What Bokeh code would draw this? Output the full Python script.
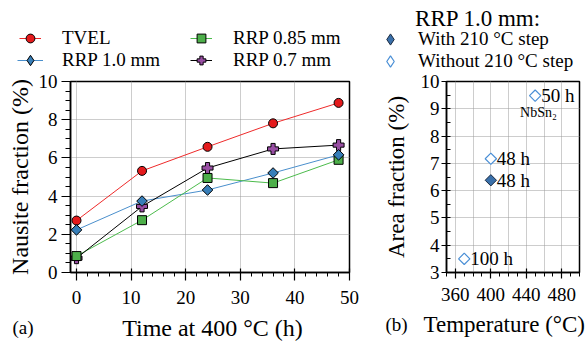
import numpy as np
from bokeh.plotting import figure
from bokeh.layouts import row, column
from bokeh.models import (Range1d, SingleIntervalTicker, FixedTicker, Legend, LegendItem,
                          Label, ColumnDataSource)
from bokeh.core.properties import value
from bokeh.embed import file_html
from bokeh.resources import INLINE

FONT = "Liberation Serif"

# ---------------- data: panel (a) ----------------
time_h = [0, 12, 24, 36, 48]
tvel = [2.72, 5.32, 6.58, 7.81, 8.88]
rrp_10 = [2.23, 3.74, 4.32, 5.21, 6.16]
rrp_085 = [0.86, 2.74, 4.95, 4.68, 5.90]
rrp_07 = [0.75, 3.46, 5.47, 6.47, 6.67]
series_names = ["TVEL", "RRP 1.0 mm", "RRP 0.85 mm", "RRP 0.7 mm"]

# ---------------- data: panel (b) ----------------
with_temp = [400]
with_area = [6.38]
with_label = ["48 h"]
without_temp = [450, 400, 370]
without_area = [9.48, 7.17, 3.50]
without_label = ["50 h", "48 h", "100 h"]
nbsn2_temp = [433]
nbsn2_area = [8.86]
nbsn2_text = ["NbSn₂"]
group_names = ["With 210 °C step", "Without 210 °C step"]

RED, BLUE, GREEN, PURPLE = "#e41a1c", "#377eb8", "#4daf4a", "#984ea3"
LINE_COLORS = ["#ee2a2a", "#4a8fcc", "#4cbb4c", "black"]
WITH_FILL, WITH_LINE = "#3a70aa", "#1a2a40"
WITHOUT_LINE = "#4a8fd6"

W_TOTAL = 588
TOP_H, MAIN_H, BOT_H = 71, 240, 32


def blank_strip(h):
    f = figure(width=W_TOTAL, height=h, x_range=Range1d(0, 1), y_range=Range1d(0, 1),
               x_axis_type=None, y_axis_type=None, output_backend="svg",
               toolbar_location=None, title_location=None, min_border=0)
    f.outline_line_color = None
    return f


def style_axes(p, lab_size):
    p.outline_line_color = "black"
    p.outline_line_width = 1.5
    p.axis.major_label_text_font = FONT
    p.axis.major_label_text_font_size = "19px"
    p.axis.major_label_text_color = "black"
    p.axis.axis_line_width = 1.5
    p.axis.major_tick_line_width = 1.2
    p.axis.minor_tick_line_width = 1.0
    p.axis.axis_label_text_font = FONT
    p.axis.axis_label_text_font_size = lab_size
    p.axis.axis_label_text_font_style = "normal"
    p.axis.axis_label_text_color = "black"
    p.grid.grid_line_color = "#9a9a9a"
    p.grid.grid_line_dash = "1 1"
    p.grid.grid_line_width = 1


def key_source():
    # a single undrawable point, so that the legend key has its styles
    return ColumnDataSource(dict(x=[np.nan], y=[np.nan]))


def add_key(fig, label, renderers, x_left, y_center, gw, gh, standoff):
    lg = Legend(items=[LegendItem(label=label, renderers=renderers)],
                location=(x_left, TOP_H - (y_center + gh / 2)))
    lg.label_text_font = FONT
    lg.label_text_font_size = "19px"
    lg.label_text_color = "black"
    lg.background_fill_alpha = 0
    lg.border_line_alpha = 0
    lg.padding = 0
    lg.margin = 0
    lg.spacing = 0
    lg.glyph_width = gw
    lg.glyph_height = gh
    lg.label_height = gh
    lg.label_standoff = standoff
    fig.add_layout(lg, "center")


# ================= top strip: legends =================
pt = blank_strip(TOP_H)
leg_line = [pt.line(x="x", y="y", source=key_source(), line_color=c, line_width=1)
            for c in LINE_COLORS]
leg_mark = [
    pt.scatter(x="x", y="y", source=key_source(), marker="circle",
               fill_color=RED, line_color="black"),
    pt.scatter(x="x", y="y", source=key_source(), marker="diamond",
               fill_color=BLUE, line_color="black"),
    pt.scatter(x="x", y="y", source=key_source(), marker="square",
               fill_color=GREEN, line_color="black"),
    pt.scatter(x="x", y="y", source=key_source(), marker="plus",
               fill_color=PURPLE, line_color="black"),
]
add_key(pt, series_names[0], [leg_line[0], leg_mark[0]], 19, 38, 22, 22, 21)
add_key(pt, series_names[1], [leg_line[1], leg_mark[1]], 17, 60, 26, 26, 19)
add_key(pt, series_names[2], [leg_line[2], leg_mark[2]], 190, 38, 22, 22, 21)
add_key(pt, series_names[3], [leg_line[3], leg_mark[3]], 190, 60, 22, 22, 21)

r_leg_with = pt.scatter(x="x", y="y", source=key_source(), marker="diamond",
                        fill_color=WITH_FILL, line_color=WITH_LINE)
r_leg_without = pt.scatter(x="x", y="y", source=key_source(), marker="diamond",
                           fill_color="white", line_color=WITHOUT_LINE, line_width=1.2)
add_key(pt, group_names[0], [r_leg_with], 376, 39, 28, 28, 14)
add_key(pt, group_names[1], [r_leg_without], 376, 61, 28, 28, 14)
pt.add_layout(Label(x=477.5, y=53, x_units="screen", y_units="screen", text="RRP 1.0 mm:",
                    text_font=FONT, text_font_size="23px", text_align="center",
                    text_baseline="alphabetic", text_color="black"))

# ================= panel (a) =================
p1 = figure(width=380, height=MAIN_H, x_range=Range1d(-1.1, 50), y_range=Range1d(0, 10),
            output_backend="svg", toolbar_location=None, title_location=None,
            min_border_left=70, min_border_right=31, min_border_top=10, min_border_bottom=39)
p1.xaxis.ticker = SingleIntervalTicker(interval=10, num_minor_ticks=5)
p1.yaxis.ticker = SingleIntervalTicker(interval=2, num_minor_ticks=4)
p1.xgrid.ticker = SingleIntervalTicker(interval=10)
p1.ygrid.ticker = SingleIntervalTicker(interval=2)
p1.yaxis.axis_label = "Nausite fraction (%)"
style_axes(p1, "24px")
p1.xaxis.major_tick_in = 4
p1.xaxis.major_tick_out = 8
p1.xaxis.minor_tick_in = 0
p1.xaxis.minor_tick_out = 4
p1.yaxis.major_tick_in = 0
p1.yaxis.major_tick_out = 9
p1.yaxis.minor_tick_in = 0
p1.yaxis.minor_tick_out = 5
p1.xaxis.major_label_standoff = 10
p1.yaxis.major_label_standoff = 4
p1.yaxis.axis_label_standoff = 3

for ys, c in zip([tvel, rrp_10, rrp_085, rrp_07], LINE_COLORS):
    p1.line(time_h, ys, line_color=c, line_width=1)
p1.scatter(time_h, rrp_07, marker="plus", size=11, fill_color=PURPLE,
           line_color="black", line_width=1)
p1.scatter(time_h, rrp_085, marker="square", size=9, fill_color=GREEN,
           line_color="black", line_width=1)
p1.scatter(time_h, tvel, marker="circle", size=9, fill_color=RED,
           line_color="black", line_width=1)
p1.scatter(time_h, rrp_10, marker="square", size=7.5, angle=np.pi / 4,
           fill_color=BLUE, line_color="black", line_width=1)

# ================= panel (b) =================
p2 = figure(width=208, height=MAIN_H, x_range=Range1d(350, 500), y_range=Range1d(3, 10),
            output_backend="svg", toolbar_location=None, title_location=None,
            min_border_left=62, min_border_right=9, min_border_top=10, min_border_bottom=39)
p2.xaxis.ticker = FixedTicker(ticks=[360, 400, 440, 480],
                              minor_ticks=list(range(350, 501, 10)))
p2.yaxis.ticker = SingleIntervalTicker(interval=1, num_minor_ticks=2)
p2.xgrid.ticker = FixedTicker(ticks=list(range(360, 501, 20)))
p2.ygrid.ticker = SingleIntervalTicker(interval=1)
p2.yaxis.axis_label = "Area fraction (%)"
style_axes(p2, "23px")
p2.xaxis.major_tick_in = 4
p2.xaxis.major_tick_out = 6
p2.xaxis.minor_tick_in = 0
p2.xaxis.minor_tick_out = 4
p2.yaxis.major_tick_in = 3
p2.yaxis.major_tick_out = 5
p2.yaxis.minor_tick_in = 4
p2.yaxis.minor_tick_out = 0
p2.xaxis.major_label_standoff = 9
p2.yaxis.major_label_standoff = 2
p2.yaxis.axis_label_standoff = 9

src_with = ColumnDataSource(dict(x=with_temp, y=with_area, t=with_label))
src_without = ColumnDataSource(dict(x=without_temp, y=without_area, t=without_label))
p2.scatter("x", "y", source=src_with, marker="square", angle=np.pi / 4, size=8,
           fill_color=WITH_FILL, line_color=WITH_LINE, line_width=1)
p2.scatter("x", "y", source=src_without, marker="square", angle=np.pi / 4, size=8,
           fill_color="white", line_color=WITHOUT_LINE, line_width=1.2)
for src in (src_with, src_without):
    p2.text("x", "y", text="t", source=src, x_offset=6, text_baseline="middle",
            text_font=value(FONT), text_font_size="19px", text_color="black")
p2.text(nbsn2_temp, nbsn2_area, text=nbsn2_text, text_baseline="middle",
        text_font=value(FONT), text_font_size="14px", text_color="black")

# ================= bottom strip: panel tags and x titles =================
pb = blank_strip(BOT_H)
for txt, x, y, size, align in [("(a)", 12, 16, "19px", "left"),
                               ("Time at 400 °C (h)", 212, 16, "24px", "center"),
                               ("(b)", 385, 19, "19px", "left"),
                               ("Temperature (°C)", 423, 19, "23px", "left")]:
    pb.add_layout(Label(x=x, y=y, x_units="screen", y_units="screen", text=txt,
                        text_font=FONT, text_font_size=size, text_align=align,
                        text_baseline="alphabetic", text_color="black"))

layout = column(pt, row(p1, p2), pb)
open("out.html", "w").write(file_html(layout, INLINE))
